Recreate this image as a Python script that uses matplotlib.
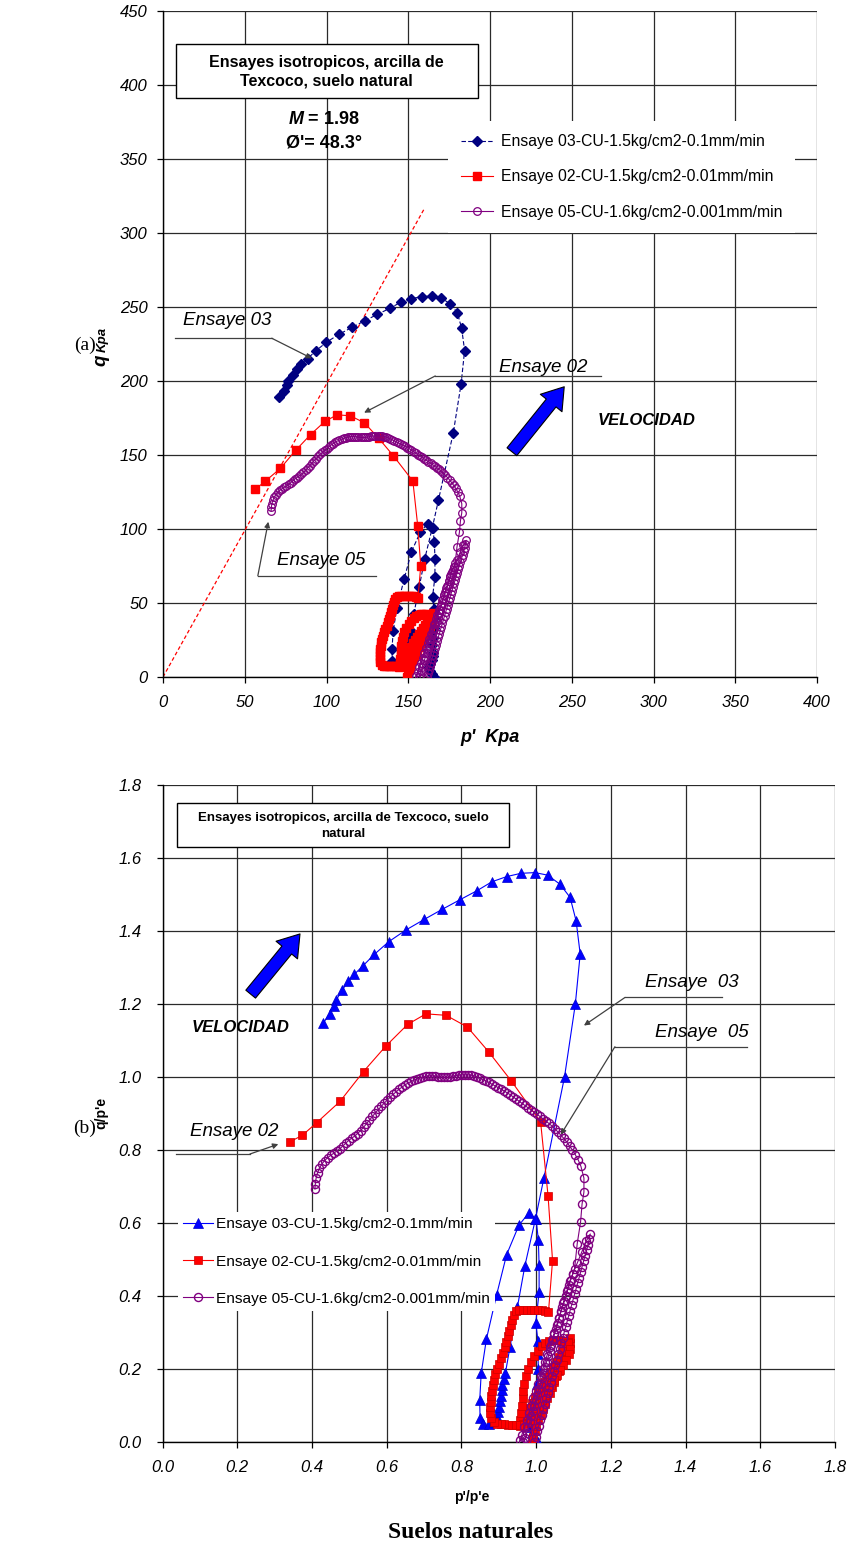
import numpy as np
import matplotlib.pyplot as plt
from matplotlib.patches import Rectangle, FancyArrowPatch

plt.rcParams['font.family'] = ['Liberation Sans', 'DejaVu Sans']
plt.rcParams['mathtext.fontset'] = 'custom'
plt.rcParams['mathtext.it'] = 'Liberation Sans:italic:bold'
plt.rcParams['mathtext.rm'] = 'Liberation Sans:bold'

# esfuerzo efectivo de consolidacion p'e de cada ensaye (kPa)
PE_03 = 165.0
PE_02 = 151.0
PE_05 = 162.0
M = 1.98
PHI = 48.3

LBL_03 = 'Ensaye 03-CU-1.5kg/cm2-0.1mm/min'
LBL_02 = 'Ensaye 02-CU-1.5kg/cm2-0.01mm/min'
LBL_05 = 'Ensaye 05-CU-1.6kg/cm2-0.001mm/min'

# trayectorias normalizadas (p'/p'e, q/p'e)
ens03 = np.array([
    (1.005, 0.0), (0.998, 0.012), (0.99, 0.025), (0.985, 0.04), (0.99, 0.055),
    (0.998, 0.07), (1.002, 0.085), (1.0, 0.1), (0.998, 0.13), (1.002, 0.16),
    (1.006, 0.2), (1.005, 0.24), (1.005, 0.277), (0.999, 0.326), (1.008, 0.41),
    (1.008, 0.484), (1.006, 0.554), (1.0, 0.61), (0.981, 0.628), (0.954, 0.594),
    (0.921, 0.513), (0.894, 0.402), (0.867, 0.282), (0.853, 0.188), (0.849, 0.114),
    (0.85, 0.065), (0.859, 0.049), (0.874, 0.049), (0.886, 0.056), (0.894, 0.068),
    (0.899, 0.082), (0.902, 0.097), (0.904, 0.112), (0.906, 0.127), (0.908, 0.142),
    (0.91, 0.157), (0.913, 0.172), (0.918, 0.19), (0.93, 0.26), (0.95, 0.37),
    (0.97, 0.483), (0.998, 0.61), (1.021, 0.724), (1.076, 1.0), (1.105, 1.2),
    (1.118, 1.337), (1.107, 1.428), (1.091, 1.492), (1.064, 1.528), (1.031, 1.553),
    (0.997, 1.56), (0.959, 1.558), (0.921, 1.549), (0.882, 1.535), (0.841, 1.51),
    (0.795, 1.485), (0.748, 1.459), (0.701, 1.432), (0.652, 1.403), (0.606, 1.371),
    (0.567, 1.336), (0.536, 1.304), (0.513, 1.281), (0.497, 1.262), (0.481, 1.238),
    (0.465, 1.211), (0.459, 1.195), (0.447, 1.173), (0.43, 1.147),
])

ens02 = np.array([
    (0.99, 0.0), (0.992, 0.015), (0.996, 0.03), (1.0, 0.045), (1.006, 0.06),
    (1.012, 0.075), (1.018, 0.09), (1.024, 0.105), (1.03, 0.12), (1.036, 0.135),
    (1.042, 0.15), (1.048, 0.165), (1.054, 0.18), (1.06, 0.195), (1.066, 0.21),
    (1.072, 0.225), (1.078, 0.24), (1.084, 0.255), (1.09, 0.27), (1.092, 0.285),
    (1.085, 0.275), (1.078, 0.262), (1.07, 0.248), (1.062, 0.234), (1.054, 0.22),
    (1.046, 0.206), (1.038, 0.192), (1.03, 0.178), (1.022, 0.164), (1.014, 0.15),
    (1.006, 0.136), (0.998, 0.122), (0.99, 0.108), (0.982, 0.094), (0.975, 0.08),
    (0.968, 0.066), (0.962, 0.052), (0.956, 0.045),
    (0.958, 0.06), (0.96, 0.08), (0.962, 0.1), (0.964, 0.12), (0.966, 0.14),
    (0.968, 0.16), (0.972, 0.18), (0.978, 0.2), (0.986, 0.22), (0.995, 0.235),
    (1.005, 0.25), (1.015, 0.262), (1.025, 0.272), (1.035, 0.278), (1.045, 0.28),
    (1.055, 0.28), (1.065, 0.28), (1.075, 0.278), (1.085, 0.27), (1.09, 0.255),
    (1.088, 0.24), (1.08, 0.226), (1.072, 0.212),
    (1.064, 0.198), (1.056, 0.184), (1.048, 0.17), (1.04, 0.156), (1.032, 0.142),
    (1.024, 0.128), (1.016, 0.114), (1.008, 0.1), (1.0, 0.086), (0.992, 0.072),
    (0.984, 0.06), (0.975, 0.052), (0.965, 0.048), (0.955, 0.047),
    (0.945, 0.047), (0.935, 0.047), (0.925, 0.047), (0.915, 0.048), (0.905, 0.048),
    (0.895, 0.05), (0.886, 0.055), (0.88, 0.065), (0.877, 0.08), (0.877, 0.095),
    (0.878, 0.11), (0.879, 0.125), (0.881, 0.14), (0.884, 0.155), (0.887, 0.17),
    (0.891, 0.185), (0.896, 0.2), (0.901, 0.215), (0.906, 0.23), (0.911, 0.245),
    (0.916, 0.26), (0.92, 0.275), (0.924, 0.29), (0.928, 0.305), (0.932, 0.32),
    (0.936, 0.335), (0.94, 0.348), (0.946, 0.358), (0.955, 0.361), (0.965, 0.362),
    (0.975, 0.362), (0.985, 0.362), (0.995, 0.362), (1.005, 0.362), (1.015, 0.361),
    (1.025, 0.36), (1.033, 0.355),
    (1.044, 0.497), (1.032, 0.674), (1.012, 0.877), (0.933, 0.99), (0.873, 1.069),
    (0.816, 1.137), (0.759, 1.169), (0.705, 1.173), (0.656, 1.144), (0.598, 1.085),
    (0.538, 1.015), (0.475, 0.933), (0.413, 0.875), (0.374, 0.840), (0.340, 0.822),
])

ens05 = np.array([
    # primer ciclo de carga
    (0.995, 0.0), (0.999, 0.015), (1.003, 0.03), (1.007, 0.045), (1.011, 0.06),
    (1.015, 0.075), (1.019, 0.09), (1.023, 0.105), (1.027, 0.12), (1.031, 0.135),
    (1.035, 0.15), (1.039, 0.165), (1.043, 0.18), (1.047, 0.195), (1.051, 0.21),
    (1.055, 0.225), (1.059, 0.24), (1.063, 0.255), (1.067, 0.27), (1.071, 0.285),
    (1.075, 0.3), (1.079, 0.315), (1.083, 0.33), (1.087, 0.345), (1.091, 0.36),
    (1.095, 0.375), (1.099, 0.39), (1.103, 0.405), (1.107, 0.42), (1.111, 0.435),
    (1.115, 0.45), (1.119, 0.465), (1.123, 0.48), (1.127, 0.495), (1.131, 0.51),
    (1.135, 0.525), (1.139, 0.54), (1.142, 0.555), (1.145, 0.57),
    # descarga
    (1.134, 0.55), (1.122, 0.52), (1.11, 0.49), (1.098, 0.46), (1.09, 0.44),
    (1.085, 0.42), (1.079, 0.4), (1.073, 0.38), (1.067, 0.36), (1.061, 0.34),
    (1.055, 0.32), (1.049, 0.3), (1.043, 0.28), (1.036, 0.26), (1.03, 0.24),
    (1.024, 0.22), (1.018, 0.2), (1.012, 0.18), (1.006, 0.16), (1.0, 0.14),
    (0.993, 0.12), (0.987, 0.1), (0.981, 0.08), (0.975, 0.06), (0.968, 0.04),
    (0.962, 0.02), (0.956, 0.005),
    # recarga
    (0.965, 0.0), (0.97, 0.01), (0.975, 0.025), (0.979, 0.04), (0.983, 0.055),
    (0.987, 0.07), (0.991, 0.085), (0.995, 0.1), (0.999, 0.115), (1.003, 0.13),
    (1.007, 0.145), (1.012, 0.16), (1.016, 0.175), (1.02, 0.19), (1.024, 0.205),
    (1.028, 0.22), (1.033, 0.235), (1.037, 0.25), (1.041, 0.265), (1.045, 0.28),
    (1.049, 0.295), (1.054, 0.31), (1.058, 0.325), (1.062, 0.34), (1.066, 0.355),
    (1.07, 0.37), (1.075, 0.385), (1.079, 0.4), (1.083, 0.415), (1.088, 0.43),
    (1.093, 0.445), (1.098, 0.46), (1.103, 0.475),
    (1.11, 0.543), (1.119, 0.603), (1.123, 0.652), (1.128, 0.685), (1.128, 0.723),
    # falla
    (1.12, 0.755), (1.113, 0.772), (1.105, 0.787), (1.097, 0.8), (1.09, 0.81),
    (1.082, 0.822), (1.074, 0.832), (1.066, 0.841), (1.058, 0.85), (1.05, 0.858),
    (1.042, 0.866), (1.034, 0.873), (1.026, 0.879), (1.018, 0.886), (1.01, 0.892),
    (1.002, 0.898), (0.994, 0.904), (0.986, 0.91), (0.978, 0.916), (0.97, 0.922),
    (0.962, 0.928), (0.954, 0.934), (0.946, 0.94), (0.938, 0.946), (0.93, 0.952),
    (0.922, 0.957), (0.914, 0.962), (0.906, 0.967), (0.898, 0.971), (0.89, 0.976),
    (0.882, 0.98), (0.874, 0.985), (0.866, 0.989), (0.858, 0.993), (0.85, 0.997),
    (0.842, 1.0), (0.834, 1.003), (0.826, 1.005), (0.818, 1.006), (0.81, 1.006),
    (0.802, 1.006), (0.794, 1.005), (0.786, 1.004), (0.778, 1.002), (0.77, 1.0),
    (0.762, 0.999), (0.754, 0.999), (0.746, 1.0), (0.738, 1.001), (0.73, 1.002),
    (0.722, 1.003), (0.714, 1.003), (0.706, 1.002), (0.698, 1.0), (0.69, 0.998),
    (0.682, 0.995), (0.674, 0.992), (0.666, 0.988), (0.658, 0.984), (0.65, 0.979),
    (0.642, 0.973), (0.634, 0.967), (0.626, 0.96), (0.618, 0.953), (0.61, 0.945),
    (0.602, 0.937), (0.594, 0.929), (0.586, 0.92), (0.578, 0.911), (0.57, 0.902),
    (0.562, 0.892), (0.554, 0.882), (0.546, 0.872), (0.538, 0.862), (0.53, 0.853),
    (0.522, 0.845), (0.514, 0.838), (0.506, 0.832), (0.498, 0.826), (0.49, 0.818),
    (0.482, 0.81), (0.474, 0.803), (0.466, 0.797), (0.458, 0.791), (0.45, 0.785),
    (0.442, 0.779), (0.434, 0.771), (0.426, 0.761), (0.42, 0.75), (0.415, 0.737),
    (0.411, 0.722), (0.409, 0.707), (0.408, 0.693),
])

X_TICKS_A = np.arange(0, 401, 50)
Y_TICKS_A = np.arange(0, 451, 50)
TICKS_B = np.arange(0, 1.81, 0.2)

W, H = 848, 1548


def fpos(x, y):
    # pixeles de la figura -> coordenadas de figura
    return (x / W, 1 - y / H)


def estilo(ax, xt, yt, xlab, ylab, ypad):
    ax.set_xticks(xt)
    ax.set_yticks(yt)
    ax.set_xticklabels(xlab, fontstyle='italic', fontsize=12)
    ax.set_yticklabels(ylab, fontstyle='italic', fontsize=12)
    ax.set_xlim(xt[0], xt[-1])
    ax.set_ylim(yt[0], yt[-1])
    ax.grid(True, color='#2a2a2a', lw=0.9)
    ax.set_axisbelow(True)
    for s in ['top', 'right']:
        ax.spines[s].set_visible(False)
    for s in ['left', 'bottom']:
        ax.spines[s].set_linewidth(1.0)
    ax.tick_params(direction='out', length=4, width=0.9)
    ax.tick_params(axis='x', pad=9)
    ax.tick_params(axis='y', pad=ypad)


def leader(ax, pts, tip):
    xs, ys = zip(*pts)
    ax.plot(xs, ys, color='#404040', lw=0.9, zorder=6)
    ax.annotate('', xy=tip, xytext=pts[0],
                arrowprops=dict(arrowstyle='-|>', color='#404040', lw=0.9,
                                mutation_scale=8, shrinkA=0, shrinkB=0),
                zorder=6)


fig = plt.figure(figsize=(8.48, 15.48), dpi=100)

# ---------------- (a) trayectorias p'-q ----------------
ax1 = fig.add_axes([163 / W, 1 - 677 / H, 654 / W, 666 / H])
estilo(ax1, X_TICKS_A, Y_TICKS_A, [str(v) for v in X_TICKS_A],
       [str(v) for v in Y_TICKS_A], 7)

p03, q03 = ens03.T * PE_03
p02, q02 = ens02[:-1].T * PE_02
p05, q05 = ens05.T * PE_05

ax1.plot(p03, q03, ls=(0, (4, 2)), color='#000080', lw=0.8, marker='D', ms=5,
         mfc='#000080', mec='#000080', label=LBL_03, zorder=3)
ax1.plot(p02, q02, '-', color='red', lw=0.8, marker='s', ms=5.2, mfc='red',
         mec='red', label=LBL_02, zorder=3)
ax1.plot(p05, q05, '-', color='#800080', lw=0.8, marker='o', ms=5.5,
         mfc='none', mec='#800080', mew=0.9, label=LBL_05, zorder=3)

# linea de estado critico q = M p'
pcs = np.array([0, 160])
ax1.plot(pcs, M * pcs, ls=(0, (3, 2)), color='red', lw=0.9, zorder=2)

ax1.legend(loc='upper left', bbox_to_anchor=fpos(448, 121),
           bbox_transform=fig.transFigure, fontsize=11.3, frameon=True,
           fancybox=False, edgecolor='none', framealpha=1, borderaxespad=0,
           borderpad=0.85, labelspacing=1.28, handlelength=2.0,
           handletextpad=0.5, numpoints=1)

fig.add_artist(Rectangle(fpos(175.5, 98), 302 / W, 54 / H,
                         transform=fig.transFigure, fc='white', ec='black',
                         lw=1, zorder=5))
fig.text(*fpos(326.5, 72), 'Ensayes isotropicos, arcilla de\nTexcoco, suelo natural',
         ha='center', va='center', fontsize=11.5, fontweight='bold',
         linespacing=1.32, zorder=6)
fig.text(*fpos(324, 120), r'$\mathit{M}$ = %.2f' % M, ha='center', va='center',
         fontsize=13, fontweight='bold')
fig.text(*fpos(324, 143), "Ø'= %.1f°" % PHI, ha='center', va='center',
         fontsize=13, fontweight='bold')

ax1.add_patch(FancyArrowPatch((213.4, 152.2), (245.4, 196.1),
                              arrowstyle='simple,head_length=0.75,head_width=1.0,tail_width=0.45',
                              mutation_scale=20, fc='#0000ff', ec='black',
                              lw=0.8, shrinkA=0, shrinkB=0, zorder=6))
ax1.text(295.5, 173, 'VELOCIDAD', ha='center', va='center', fontsize=12,
         fontweight='bold', fontstyle='italic', zorder=6)

ax1.text(12.2, 241.2, 'Ensaye 03', fontsize=13.5, fontstyle='italic',
         va='center', zorder=6)
leader(ax1, [(66.5, 228.9), (7.3, 228.9)], (91, 215.3))
ax1.text(205.6, 209.3, 'Ensaye 02', fontsize=13.5, fontstyle='italic',
         va='center', zorder=6)
leader(ax1, [(166.5, 203.4), (268, 203.4)], (123, 178.6))
ax1.text(69.8, 79, 'Ensaye 05', fontsize=13.5, fontstyle='italic',
         va='center', zorder=6)
leader(ax1, [(58, 68.4), (130, 68.4)], (64.4, 104.9))

fig.text(*fpos(490, 737), "p'  Kpa", ha='center', va='center', fontsize=13,
         fontweight='bold', fontstyle='italic')
fig.text(*fpos(101, 360), 'q', ha='center', va='center', fontsize=13.5,
         fontweight='bold', fontstyle='italic', rotation=90)
fig.text(*fpos(103, 339), 'Kpa', ha='center', va='center', fontsize=9.5,
         fontweight='bold', fontstyle='italic', rotation=90)
fig.text(*fpos(85, 345), '(a)', ha='center', va='center', fontsize=14,
         family='Liberation Serif')

# ---------------- (b) trayectorias normalizadas ----------------
ax2 = fig.add_axes([162.5 / W, 1 - 1442 / H, 672.5 / W, 657 / H])
lab_b = ['%.1f' % v for v in TICKS_B]
estilo(ax2, TICKS_B, TICKS_B, lab_b, lab_b, 11)

ax2.plot(ens03[:, 0], ens03[:, 1], '-', color='#0000ff', lw=0.8, marker='^',
         ms=6.5, mfc='#0000ff', mec='#0000cc', mew=0.5, label=LBL_03, zorder=3)
ax2.plot(ens02[:, 0], ens02[:, 1], '-', color='red', lw=0.8, marker='s',
         ms=6, mfc='red', mec='#cc0000', mew=0.5, label=LBL_02, zorder=3)
ax2.plot(ens05[:, 0], ens05[:, 1], '-', color='#800080', lw=0.8, marker='o',
         ms=5.8, mfc='none', mec='#800080', mew=1.0, label=LBL_05, zorder=3)

ax2.legend(loc='upper left', bbox_to_anchor=fpos(178, 1212),
           bbox_transform=fig.transFigure, fontsize=11.1, frameon=True,
           fancybox=False, edgecolor='none', framealpha=1, borderaxespad=0,
           borderpad=0.35, labelspacing=1.5, handlelength=1.9,
           handletextpad=0.2, numpoints=1)

fig.add_artist(Rectangle(fpos(177, 847), 332 / W, 44 / H,
                         transform=fig.transFigure, fc='white', ec='black',
                         lw=1, zorder=5))
fig.text(*fpos(343, 826), 'Ensayes isotropicos, arcilla de Texcoco, suelo\nnatural',
         ha='center', va='center', fontsize=9.5, fontweight='bold',
         linespacing=1.35, zorder=6)

ax2.add_patch(FancyArrowPatch((0.236, 1.227), (0.368, 1.392),
                              arrowstyle='simple,head_length=0.75,head_width=1.0,tail_width=0.45',
                              mutation_scale=20, fc='#0000ff', ec='black',
                              lw=0.8, shrinkA=0, shrinkB=0, zorder=6))
ax2.text(0.208, 1.136, 'VELOCIDAD', ha='center', va='center', fontsize=12,
         fontweight='bold', fontstyle='italic', zorder=6)

ax2.text(0.074, 0.85, 'Ensaye 02', fontsize=13.5, fontstyle='italic',
         va='center', zorder=6)
leader(ax2, [(0.234, 0.789), (0.036, 0.789)], (0.31, 0.816))
ax2.text(1.292, 1.258, 'Ensaye  03', fontsize=13.5, fontstyle='italic',
         va='center', zorder=6)
leader(ax2, [(1.238, 1.218), (1.497, 1.218)], (1.128, 1.141))
ax2.text(1.319, 1.121, 'Ensaye  05', fontsize=13.5, fontstyle='italic',
         va='center', zorder=6)
leader(ax2, [(1.211, 1.083), (1.564, 1.083)], (1.066, 0.842))

fig.text(*fpos(472, 1497), "p'/p'e", ha='center', va='center', fontsize=10,
         fontweight='bold')
fig.text(*fpos(101, 1113), "q/p'e", ha='center', va='center', fontsize=10,
         fontweight='bold', rotation=90)
fig.text(*fpos(85, 1128), '(b)', ha='center', va='center', fontsize=14,
         family='Liberation Serif')
fig.text(*fpos(471, 1533), 'Suelos naturales', ha='center', va='center',
         fontsize=17, fontweight='bold', family='Liberation Serif')

fig.savefig('out.png', dpi=100)
